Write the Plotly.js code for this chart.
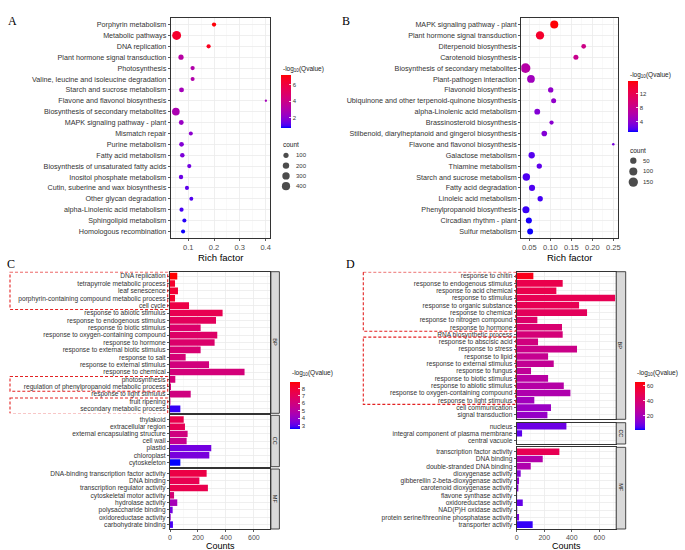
<!DOCTYPE html>
<html><head><meta charset="utf-8">
<script src="https://cdn.plot.ly/plotly-3.0.1.min.js"></script>
<style>body{margin:0;background:#fff}#chart{width:685px;height:550px}</style>
</head><body><div id="chart"></div>
<script>
// ---------- Panel A: KEGG dot plot ----------
const pathwaysA = ["Porphyrin metabolism","Metabolic pathways","DNA replication","Plant hormone signal transduction","Photosynthesis","Valine, leucine and isoleucine degradation","Starch and sucrose metabolism","Flavone and flavonol biosynthesis","Biosynthesis of secondary metabolites","MAPK signaling pathway - plant","Mismatch repair","Purine metabolism","Fatty acid metabolism","Biosynthesis of unsaturated fatty acids","Inositol phosphate metabolism","Cutin, suberine and wax biosynthesis","Other glycan degradation","alpha-Linolenic acid metabolism","Sphingolipid metabolism","Homologous recombination"];
const richA = [0.200,0.055,0.179,0.072,0.117,0.117,0.074,0.401,0.052,0.073,0.110,0.074,0.077,0.104,0.072,0.095,0.112,0.074,0.085,0.080];
const qA = [7.1,6.5,6.8,3.2,3.0,3.0,2.6,2.6,2.8,2.3,2.0,1.8,1.7,1.5,1.4,1.2,1.1,1.0,0.85,0.75];
const countA = [50,500,45,100,50,40,80,5,330,80,40,70,60,45,55,40,35,45,40,40];
const colorRangeA = [0.7,7.2];
const colorTicksA = [2,4,6];
const legendCountsA = [100,200,300,400];

// ---------- Panel B: KEGG dot plot ----------
const pathwaysB = ["MAPK signaling pathway - plant","Plant hormone signal transduction","Diterpenoid biosynthesis","Carotenoid biosynthesis","Biosynthesis of secondary metabolites","Plant-pathogen interaction","Flavonoid biosynthesis","Ubiquinone and other terpenoid-quinone biosynthesis","alpha-Linolenic acid metabolism","Brassinosteroid biosynthesis","Stilbenoid, diarylheptanoid and gingerol biosynthesis","Flavone and flavonol biosynthesis","Galactose metabolism","Thiamine metabolism","Starch and sucrose metabolism","Fatty acid degradation","Linoleic acid metabolism","Phenylpropanoid biosynthesis","Circadian rhythm - plant","Sulfur metabolism"];
const richB = [0.1095,0.0755,0.1795,0.161,0.041,0.054,0.101,0.108,0.069,0.103,0.0857,0.250,0.0557,0.0738,0.043,0.0565,0.076,0.042,0.049,0.052];
const qB = [15.5,14.0,8.5,8.0,6.5,5.0,4.2,4.2,3.5,3.8,3.5,3.0,2.0,2.2,1.8,1.8,1.6,1.5,1.2,1.1];
const countB = [100,110,20,25,170,90,30,25,40,15,35,5,50,30,80,45,30,70,45,40];
const colorRangeB = [1.0,15.6];
const colorTicksB = [4,8,12];
const legendCountsB = [50,100,150];

// ---------- Panel C: GO bar chart ----------
const termsC_BP = ["DNA replication","tetrapyrrole metabolic process","leaf senescence","porphyrin-containing compound metabolic process","cell cycle","response to abiotic stimulus","response to endogenous stimulus","response to biotic stimulus","response to oxygen-containing compound","response to hormone","response to external biotic stimulus","response to salt","response to external stimulus","response to chemical","photosynthesis","regulation of phenylpropanoid metabolic process","response to light stimulus","fruit ripening","secondary metabolic process"];
const countsC_BP = [52,36,57,36,136,376,329,219,338,319,219,112,279,533,38,7,148,3,74];
const qC_BP = [8.9,8.2,8.0,8.2,7.6,7.3,7.0,6.6,6.7,6.6,6.4,6.3,6.1,6.2,6.2,6.0,6.0,5.6,2.8];
const termsC_CC = ["thylakoid","extracellular region","external encapsulating structure","cell wall","plastid","chloroplast","cytoskeleton"];
const countsC_CC = [98,107,126,119,295,281,74];
const qC_CC = [7.4,7.2,6.0,5.6,3.4,3.5,2.6];
const termsC_MF = ["DNA-binding transcription factor activity","DNA binding","transcription regulator activity","cytoskeletal motor activity","hydrolase activity","polysaccharide binding","oxidoreductase activity","carbohydrate binding"];
const countsC_MF = [262,210,271,29,52,19,5,21];
const qC_MF = [7.6,7.3,7.4,6.3,4.5,3.4,4.0,2.9];
const colorRangeC = [2.6,8.9];
const colorTicksC = [3,4,5,6,7,8];

// ---------- Panel D: GO bar chart ----------
const termsD_BP = ["response to chitin","response to endogenous stimulus","response to acid chemical","response to stimulus","response to organic substance","response to chemical","response to nitrogen compound","response to hormone","RNA biosynthetic process","response to abscisic acid","response to stress","response to lipid","response to external stimulus","response to fungus","response to biotic stimulus","response to abiotic stimulus","response to oxygen-containing compound","response to light stimulus","cell communication","signal transduction"];
const countsD_BP = [121,334,288,715,453,511,150,329,334,155,438,228,269,104,228,342,390,128,249,223];
const qD_BP = [62,50,50,48,48,46,42,40,38,36,33,31,30,29,26,25,23,19,17,16];
const termsD_CC = ["nucleus","integral component of plasma membrane","central vacuole"];
const countsD_CC = [361,39,2];
const qD_CC = [8,6,5];
const termsD_MF = ["transcription factor activity","DNA binding","double-stranded DNA binding","dioxygenase activity","gibberellin 2-beta-dioxygenase activity","carotenoid dioxygenase activity","flavone synthase activity","oxidoreductase activity","NAD(P)H oxidase activity","protein serine/threonine phosphatase activity","transporter activity"];
const countsD_MF = [310,189,102,29,17,12,3,44,4,17,116];
const qD_MF = [48,24,23,12,14,13,12,7,10,10,3];
const colorRangeD = [1,65];
const colorTicksD = [20,40,60];

const ontologyLabels = ["BP","CC","MF"];

// ---------- helpers ----------
const W = 685, H = 550;
const X = px => px / W;
const Y = py => 1 - py / H;
const FONT = 'Liberation Sans, Arial, Helvetica, sans-serif';
const SERIF = 'Liberation Serif, Times New Roman, serif';

// blue -> red gradient interpolated in CIELAB (like ggplot2)
function toLin(c){c/=255;return c<=0.04045?c/12.92:Math.pow((c+0.055)/1.055,2.4);}
function toS(c){c=c<=0.0031308?12.92*c:1.055*Math.pow(c,1/2.4)-0.055;return Math.round(Math.max(0,Math.min(1,c))*255);}
function rgb2lab(rgb){const r=toLin(rgb[0]),g=toLin(rgb[1]),b=toLin(rgb[2]);
  const Xx=(0.4124*r+0.3576*g+0.1805*b)/0.95047,Yy=0.2126*r+0.7152*g+0.0722*b,Zz=(0.0193*r+0.1192*g+0.9505*b)/1.08883;
  const f=t=>t>0.008856?Math.cbrt(t):7.787*t+16/116;const fx=f(Xx),fy=f(Yy),fz=f(Zz);
  return [116*fy-16,500*(fx-fy),200*(fy-fz)];}
function lab2rgb(l){const fy=(l[0]+16)/116,fx=fy+l[1]/500,fz=fy-l[2]/200;
  const fi=t=>t*t*t>0.008856?t*t*t:(t-16/116)/7.787;
  const Xx=fi(fx)*0.95047,Yy=fi(fy),Zz=fi(fz)*1.08883;
  return [toS(3.2406*Xx-1.5372*Yy-0.4986*Zz),toS(-0.9689*Xx+1.8758*Yy+0.0415*Zz),toS(0.0557*Xx-0.2040*Yy+1.0570*Zz)];}
function labScale(c0,c1,n){const a=rgb2lab(c0),b=rgb2lab(c1),out=[];
  for(let i=0;i<=n;i++){const t=i/n;const c=lab2rgb([0,1,2].map(k=>a[k]+(b[k]-a[k])*t));out.push([t,`rgb(${c[0]},${c[1]},${c[2]})`]);}
  return out;}
const SCALE = labScale([0,0,255],[255,0,0],24);

function sizeFn(counts,d0,k){const mn=Math.min(...counts),mx=Math.max(...counts);
  return c=>d0+k*Math.sqrt(Math.max(0,(c-mn)/(mx-mn)));}
const sizeA = sizeFn(countA,2.3,6.6);
const sizeB = sizeFn(countB,2.5,7.3);

function colorbar(xpx,toppx,lenpx,thick,ticks){
  return {x:X(xpx),xanchor:'left',y:Y(toppx),yanchor:'top',len:lenpx,lenmode:'pixels',
    thickness:thick,thicknessmode:'pixels',outlinewidth:0,xpad:0,ypad:0,
    ticks:'inside',ticklen:2,tickwidth:0.8,tickcolor:'white',tickmode:'array',tickvals:ticks,
    tickfont:{size:6,color:'#333',family:FONT}};
}

function dotTrace(xs,cats,q,counts,sz,xa,ya,crange,cb){
  return {type:'scatter',mode:'markers',x:xs,y:cats,xaxis:xa,yaxis:ya,hoverinfo:'skip',
    marker:{color:q,colorscale:SCALE,cmin:crange[0],cmax:crange[1],size:counts.map(sz),
      line:{width:0},opacity:1,showscale:true,colorbar:cb}};
}
function barTrace(vals,cats,q,xa,ya,crange,cb){
  return {type:'bar',orientation:'h',x:vals,y:cats,xaxis:xa,yaxis:ya,width:0.9,hoverinfo:'skip',
    marker:{color:q,colorscale:SCALE,cmin:crange[0],cmax:crange[1],line:{width:0},
      showscale:!!cb,colorbar:cb||{}}};
}

function catAxis(cats,toppx,botpx,fs,anchor,pad){
  const p = pad===undefined?0.6:pad;
  return {domain:[Y(botpx),Y(toppx)],anchor:anchor,type:'category',categoryorder:'array',categoryarray:cats,
    range:[cats.length-1+p,-p],tickmode:'array',tickvals:cats,ticktext:cats,
    ticks:'outside',ticklen:2,tickwidth:0.8,tickcolor:'#333',
    tickfont:{size:fs,color:'#333333',family:FONT},
    showgrid:true,gridcolor:'#EBEBEB',gridwidth:0.8,
    showline:true,mirror:true,linecolor:'#333',linewidth:1,zeroline:false,fixedrange:true};
}
function linAxis(l,r,anchor,range,dtick,mdtick,labels,fmt,fs){
  return {domain:[X(l),X(r)],anchor:anchor,range:range,tick0:0,dtick:dtick,tickformat:fmt||'',
    showticklabels:labels,ticks:labels?'outside':'',ticklen:1.5,tickwidth:0.8,tickcolor:'#333',
    tickfont:{size:fs||7.5,color:'#4D4D4D',family:FONT},
    showgrid:true,gridcolor:'#EBEBEB',gridwidth:0.8,
    minor:{dtick:mdtick,tick0:0,showgrid:true,gridcolor:'#F4F4F4',gridwidth:0.5,ticks:''},
    showline:true,mirror:true,linecolor:'#333',linewidth:1,zeroline:false,fixedrange:true};
}

const traces = [];
// A
traces.push(dotTrace(richA,pathwaysA,qA,countA,sizeA,'x','y',colorRangeA,colorbar(281,75,53,10,colorTicksA)));
// B
traces.push(dotTrace(richB,pathwaysB,qB,countB,sizeB,'x2','y2',colorRangeB,colorbar(628,81,51,10,colorTicksB)));
// C
traces.push(barTrace(countsC_BP,termsC_BP,qC_BP,'x3','y3',colorRangeC,colorbar(290,381.7,47,10,colorTicksC)));
traces.push(barTrace(countsC_CC,termsC_CC,qC_CC,'x4','y4',colorRangeC,null));
traces.push(barTrace(countsC_MF,termsC_MF,qC_MF,'x5','y5',colorRangeC,null));
// D
traces.push(barTrace(countsD_BP,termsD_BP,qD_BP,'x6','y6',colorRangeD,colorbar(635,381.7,48,10,colorTicksD)));
traces.push(barTrace(countsD_CC,termsD_CC,qD_CC,'x7','y7',colorRangeD,null));
traces.push(barTrace(countsD_MF,termsD_MF,qD_MF,'x8','y8',colorRangeD,null));

// size legends (overlay pixel axis)
const legA_y = legendCountsA.map((c,i)=>155.3+i*10.3);
const legB_y = legendCountsB.map((c,i)=>160.7+i*10.7);
traces.push({type:'scatter',mode:'markers',xaxis:'x9',yaxis:'y9',hoverinfo:'skip',
  x:legendCountsA.map(()=>286).concat(legendCountsB.map(()=>633.3)),
  y:legA_y.concat(legB_y),
  marker:{color:'#000',size:legendCountsA.map(sizeA).concat(legendCountsB.map(sizeB)),line:{width:0}}});

const layout = {
  width:W,height:H,margin:{l:0,r:0,t:0,b:0},autosize:false,showlegend:false,
  paper_bgcolor:'#fff',plot_bgcolor:'rgba(0,0,0,0)',
  font:{family:FONT,color:'#333'},
  xaxis: linAxis(170.7,270,'y',[0.032,0.417],0.1,0.05,true,''),
  yaxis: catAxis(pathwaysA,18,238,7.2,'x'),
  xaxis2: linAxis(521.3,617.7,'y2',[0.031,0.2605],0.05,0.025,true,'.2f'),
  yaxis2: catAxis(pathwaysB,18,238,7.2,'x2'),
  xaxis3: linAxis(170,270,'y3',[0,715],200,100,false),
  yaxis3: catAxis(termsC_BP,271.7,413.3,6.6,'x3'),
  xaxis4: linAxis(170,270,'y4',[0,715],200,100,false),
  yaxis4: catAxis(termsC_CC,415.3,466.7,6.6,'x4'),
  xaxis5: linAxis(170,270,'y5',[0,715],200,100,true,'',7),
  yaxis5: catAxis(termsC_MF,469,529,6.6,'x5'),
  xaxis6: linAxis(516.7,615.7,'y6',[0,719],200,100,false),
  yaxis6: catAxis(termsD_BP,271.7,419.3,6.6,'x6'),
  xaxis7: linAxis(516.7,615.7,'y7',[0,719],200,100,false),
  yaxis7: catAxis(termsD_CC,422.7,444,6.6,'x7',0.5),
  xaxis8: linAxis(516.7,615.7,'y8',[0,719],200,100,true,'',7),
  yaxis8: catAxis(termsD_MF,447.3,529,6.6,'x8'),
  xaxis9: {domain:[0,1],range:[0,W],visible:false,anchor:'y9',fixedrange:true},
  yaxis9: {domain:[0,1],range:[H,0],visible:false,anchor:'x9',fixedrange:true},
  shapes:[],annotations:[]
};

// strips
const strips = [
  [270.9,279.4,271.7,413.3,0],[270.9,279.4,415.3,466.7,1],[270.9,279.4,469,529,2],
  [616.2,625.7,271.7,419.3,0],[616.2,625.7,422.7,444,1],[616.2,625.7,447.3,529,2]
];
strips.forEach(s=>{
  layout.shapes.push({type:'rect',xref:'paper',yref:'paper',x0:X(s[0]),x1:X(s[1]),y0:Y(s[3]),y1:Y(s[2]),
    fillcolor:'#D9D9D9',line:{color:'#333',width:0.9},layer:'above'});
  layout.annotations.push({xref:'paper',yref:'paper',x:X((s[0]+s[1])/2),y:Y((s[2]+s[3])/2),
    text:ontologyLabels[s[4]],textangle:90,showarrow:false,font:{size:5.5,color:'#1A1A1A',family:FONT},
    xanchor:'center',yanchor:'middle'});
});

// red dashed highlight boxes
const boxes = [
  [10,167.7,'y3',-0.58,4.53],[10,167.7,'y3',13.6,15.62],[10,167.7,'y3',16.53,18.64],
  [363.3,515.7,'y6',-0.55,7.55],[363.3,515.7,'y6',8.36,17.56]
];
boxes.forEach(b=>{
  layout.shapes.push({type:'rect',xref:'paper',yref:b[2],x0:X(b[0]),x1:X(b[1]),y0:b[3],y1:b[4],
    line:{color:'#E32222',width:1.1,dash:'3px,2px'},fillcolor:'rgba(0,0,0,0)',layer:'above'});
});

function ann(x,y,text,size,opts){
  layout.annotations.push(Object.assign({xref:'paper',yref:'paper',x:X(x),y:Y(y),text:text,showarrow:false,
    font:{size:size,color:'#000',family:FONT},xanchor:'center',yanchor:'middle'},opts||{}));
}
// panel letters
ann(12,20.7,'A',12,{font:{size:12,color:'#000',family:SERIF}});
ann(346,20.7,'B',12,{font:{size:12,color:'#000',family:SERIF}});
ann(11,264,'C',12,{font:{size:12,color:'#000',family:SERIF}});
ann(350,264,'D',12,{font:{size:12,color:'#000',family:SERIF}});
// axis titles
ann(220.4,257,'Rich factor',9.5);
ann(569.5,257,'Rich factor',9.5);
ann(220,545.5,'Counts',9,{yanchor:'middle'});
ann(566,545.5,'Counts',9,{yanchor:'middle'});
// colorbar titles
const cbt = '-log<sub>10</sub>(Qvalue)';
ann(280.5,69.5,cbt,6.5,{xanchor:'left',font:{size:6.5,color:'#1A1A1A',family:FONT}});
ann(628,75.3,cbt,6.5,{xanchor:'left',font:{size:6.5,color:'#1A1A1A',family:FONT}});
ann(289.5,373.3,cbt,6.5,{xanchor:'left',font:{size:6.5,color:'#1A1A1A',family:FONT}});
ann(635,373.3,cbt,6.5,{xanchor:'left',font:{size:6.5,color:'#1A1A1A',family:FONT}});
// size legend titles and labels
ann(280.5,144.3,'count',6.5,{xanchor:'left',font:{size:6.5,color:'#1A1A1A',family:FONT}});
ann(628,150,'count',6.5,{xanchor:'left',font:{size:6.5,color:'#1A1A1A',family:FONT}});
legendCountsA.forEach((c,i)=>ann(294,legA_y[i],String(c),6,{xanchor:'left',font:{size:6,color:'#333',family:FONT}}));
legendCountsB.forEach((c,i)=>ann(641,legB_y[i],String(c),6,{xanchor:'left',font:{size:6,color:'#333',family:FONT}}));

Plotly.newPlot('chart',traces,layout,{staticPlot:true,displayModeBar:false});
</script>
</body></html>
